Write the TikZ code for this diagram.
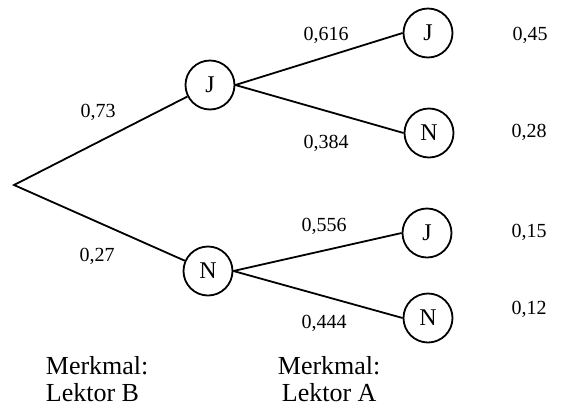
\documentclass[tikz,border=0pt]{standalone}
\usepackage{fontspec}
\setmainfont{Liberation Serif}
\begin{document}
\begin{tikzpicture}[x=1pt,y=-1pt,
  line width=1.8pt,
  state/.style={circle,draw,line width=1.8pt,minimum size=49pt,inner sep=0pt,font=\fontsize{24}{24}\selectfont},
  prob/.style={anchor=base,inner sep=0pt,font=\fontsize{20}{20}\selectfont},
  caption/.style={anchor=base west,inner sep=0pt,font=\fontsize{26}{26}\selectfont}]
\useasboundingbox (0,0) rectangle (563,408);
\coordinate (r) at (14,185);
\node[state] (J) at (210,85) {J};
\node[state] (N) at (208,271) {N};
\node[state] (JJ) at (428,33) {J};
\node[state] (JN) at (429,133) {N};
\node[state] (NJ) at (427,233) {J};
\node[state] (NN) at (428,318) {N};
\draw (J) -- (r) -- (N);
\draw (J.east) -- (JJ.west);
\draw (J.east) -- (JN.west);
\draw (N.east) -- (NJ.west);
\draw (N.east) -- (NN.west);
\node[prob] (p1) at (98,117) {0,73};
\node[prob] (p2) at (97,261) {0,27};
\node[prob] (p3) at (326,40) {0,616};
\node[prob] (p4) at (326,148) {0,384};
\node[prob] (p5) at (324,231) {0,556};
\node[prob] (p6) at (324,328) {0,444};
\node[prob] (q1) at (530,40) {0,45};
\node[prob] (q2) at (529,137) {0,28};
\node[prob] (q3) at (529,237) {0,15};
\node[prob] (q4) at (529,314) {0,12};
\node[caption] (m1) at (45,374) {Merkmal:};
\node[caption] (l1) at (45,401) {Lektor B};
\node[caption] (m2) at (277,374) {Merkmal:};
\node[caption] (l2) at (281,401) {Lektor A};
\end{tikzpicture}
\end{document}
